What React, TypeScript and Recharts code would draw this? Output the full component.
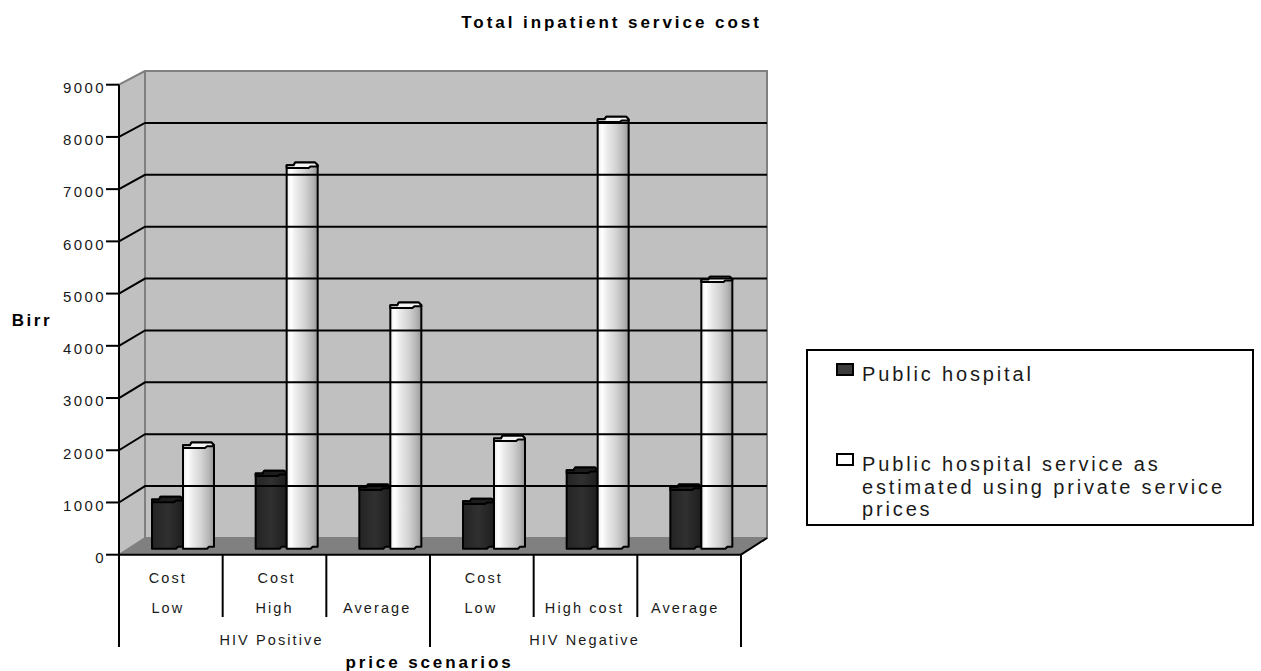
import { BarChart, Bar, XAxis, YAxis, Legend, ReferenceArea, ReferenceLine } from "recharts";

const levels = ["Low", "High", "Average", "Low", "High cost", "Average"];
const upperLevels = ["Cost", "Cost", "", "Cost", "", ""];
const groups = ["HIV Positive", "", "", "HIV Negative", "", ""];
const publicHospital = [890, 1390, 1125, 855, 1450, 1125];
const privatePrices = [1930, 7290, 4610, 2060, 8170, 5105];
const yTicks = [0, 1000, 2000, 3000, 4000, 5000, 6000, 7000, 8000, 9000];
const seriesNames = ["Public hospital", "Public hospital service as estimated using private service prices"];

const rows = levels.map((level, i) => ({
  key: i,
  level,
  publicHospital: publicHospital[i],
  privatePrices: privatePrices[i],
}));

const FONT = "'Liberation Sans', Arial, sans-serif";
const LEFT = 119;
const RIGHT = 741;
const TOP = 84.7;
const BOTTOM = 554.7;
const BAND = (RIGHT - LEFT) / levels.length;
// how far the back wall sits from the front plane
const DEPTH_X = 26;
// bars stand about halfway into the floor
const BAR_DX = 12;
const BAR_DY = -6;

// small horizontal nudges, the labels in the picture are not quite centred
const upperNudge = [-2, 3, 0, 3, 0, 0];
const levelNudge = [-3, 0, -1, -1, -1, -4];
const groupNudge = [-3, 0, 0, -1, 0, 0];

const backY = (y: number) => 538 - (BOTTOM - y) * (467 / 470);

function Walls(props: any) {
  const { x, y, width, height } = props;
  const b = y + height;
  const r = x + width;
  return (
    <g>
      <polygon points={`${x},${b} ${x},${y} ${x + DEPTH_X},${backY(y)} ${x + DEPTH_X},${backY(b)}`} fill="#c0c0c0" />
      <rect x={x + DEPTH_X} y={backY(y)} width={width} height={backY(b) - backY(y)} fill="#c0c0c0" stroke="#808080" strokeWidth={2} />
      <line x1={x} y1={y} x2={x + DEPTH_X} y2={backY(y)} stroke="#808080" strokeWidth={2} />
      <polygon points={`${x},${b} ${r},${b} ${r + DEPTH_X},${backY(b)} ${x + DEPTH_X},${backY(b)}`} fill="#808080" />
      <line x1={x} y1={b} x2={x + DEPTH_X} y2={backY(b)} stroke="#808080" strokeWidth={1.5} />
      <line x1={r} y1={b} x2={r + DEPTH_X} y2={backY(b)} stroke="#000" strokeWidth={2} />
    </g>
  );
}

function WallLine(props: any) {
  const { x1, y1, x2 } = props;
  const by = backY(y1);
  return (
    <polyline
      points={`${x1},${y1} ${x1 + DEPTH_X},${by} ${x2 + DEPTH_X},${by}`}
      fill="none"
      stroke="#000"
      strokeWidth={2}
    />
  );
}

function CylinderBar(props: any) {
  const { x, y, width, height, gradient, capFill } = props;
  const x0 = x + BAR_DX;
  const t = y + BAR_DY - 5.4;
  const b = y + height + BAR_DY;
  const w = width;
  const outline = `M${x0},${t + 2.7} L${x0 + 7},${t + 2.7} L${x0 + 8.5},${t} L${x0 + w - 2.5},${t} L${x0 + w},${t + 2.7} L${x0 + w},${b - 2} L${x0 + w - 5},${b - 2} L${x0 + w - 7},${b} L${x0},${b} Z`;
  const cap = `M${x0},${t + 2.7} L${x0 + 7},${t + 2.7} L${x0 + 8.5},${t} L${x0 + w - 2.5},${t} L${x0 + w},${t + 2.7} L${x0 + w},${t + 3.8} L${x0 + w - 7},${t + 3.8} L${x0 + w - 9},${t + 5.4} L${x0},${t + 5.4} Z`;
  return (
    <g>
      <path d={outline} fill={`url(#${gradient})`} stroke="#000" strokeWidth={2} strokeLinejoin="round" />
      <path d={cap} fill={capFill} stroke="#000" strokeWidth={2} strokeLinejoin="round" />
    </g>
  );
}

function CategoryTick(props: any) {
  const { x, payload } = props;
  const i = payload.index ?? payload.value;
  const left = x - BAND / 2;
  const right = x + BAND / 2;
  const isGroupStart = groups[i] !== "";
  const textStyle = { fontFamily: FONT, fontSize: 14.5, letterSpacing: 2.1, fill: "#1a1a1a" };
  return (
    <g>
      <line x1={left} y1={BOTTOM} x2={left} y2={isGroupStart ? 647 : 617} stroke="#000" strokeWidth={2} />
      {i === levels.length - 1 && <line x1={right} y1={BOTTOM} x2={right} y2={647} stroke="#000" strokeWidth={2} />}
      {upperLevels[i] && (
        <text x={x - 1 + upperNudge[i]} y={583} textAnchor="middle" {...textStyle}>
          {upperLevels[i]}
        </text>
      )}
      <text x={x + levelNudge[i]} y={613} textAnchor="middle" {...textStyle}>
        {levels[i]}
      </text>
      {isGroupStart && (
        <text x={right + BAND / 2 + groupNudge[i]} y={645} textAnchor="middle" {...textStyle}>
          {groups[i]}
        </text>
      )}
    </g>
  );
}

function LegendBox(props: any) {
  const items = props.payload ?? [];
  return (
    <div
      style={{
        position: "relative",
        width: 448,
        height: 177,
        border: "2px solid #000",
        boxSizing: "border-box",
        background: "#fff",
        fontFamily: FONT,
        fontSize: 20,
        letterSpacing: 2.85,
        lineHeight: "22.5px",
        color: "#1a1a1a",
      }}
    >
      {items.map((item: any, i: number) => (
        <div key={item.value} style={{ position: "absolute", left: 28, top: i === 0 ? 12 : 102, width: 400 }}>
          <span
            style={{
              position: "absolute",
              left: 0,
              top: 0,
              width: 18,
              height: 13,
              boxSizing: "border-box",
              border: "2px solid #000",
              background: i === 0 ? "#3c3c3c" : "#fff",
            }}
          />
          <div style={{ marginLeft: 26 }}>{item.value}</div>
        </div>
      ))}
    </div>
  );
}

export default function App() {
  return (
    <div style={{ position: "absolute", left: 0, top: 0, width: 1261, height: 671, overflow: "hidden", background: "#fff" }}>
      <BarChart
        width={1261}
        height={671}
        data={rows}
        margin={{ top: TOP, right: 1261 - RIGHT, bottom: 16.3, left: 0 }}
        barSize={31}
        barGap={0}
      >
        <defs>
          <linearGradient id="barLight" x1="0" y1="0" x2="1" y2="0">
            <stop offset="0%" stopColor="#ececec" />
            <stop offset="14%" stopColor="#ffffff" />
            <stop offset="30%" stopColor="#ececec" />
            <stop offset="60%" stopColor="#d2d2d2" />
            <stop offset="85%" stopColor="#b4b4b4" />
            <stop offset="100%" stopColor="#969696" />
          </linearGradient>
          <linearGradient id="barDark" x1="0" y1="0" x2="1" y2="0">
            <stop offset="0%" stopColor="#242424" />
            <stop offset="50%" stopColor="#303030" />
            <stop offset="100%" stopColor="#1e1e1e" />
          </linearGradient>
        </defs>
        <ReferenceArea y1={0} y2={9000} x1={0} x2={5} shape={<Walls />} ifOverflow="visible" />
        {yTicks.slice(1, -1).map((t) => (
          <ReferenceLine key={t} y={t} shape={<WallLine />} ifOverflow="visible" />
        ))}
        <XAxis
          dataKey="key"
          height={100}
          interval={0}
          tick={<CategoryTick />}
          tickLine={false}
          axisLine={{ stroke: "#000", strokeWidth: 2 }}
        />
        <YAxis
          width={LEFT}
          domain={[0, 9000]}
          ticks={yTicks}
          interval={0}
          tickSize={13}
          tickMargin={1}
          tick={{ fontFamily: FONT, fontSize: 15, letterSpacing: 2.4, fill: "#1a1a1a", dy: 3, dx: 1 }}
          tickLine={{ stroke: "#000", strokeWidth: 2 }}
          axisLine={{ stroke: "#000", strokeWidth: 2 }}
        />
        <Bar
          dataKey="publicHospital"
          name={seriesNames[0]}
          isAnimationActive={false}
          fill="#333"
          shape={<CylinderBar gradient="barDark" capFill="#1c1c1c" />}
        />
        <Bar
          dataKey="privatePrices"
          name={seriesNames[1]}
          isAnimationActive={false}
          fill="#fff"
          shape={<CylinderBar gradient="barLight" capFill="#f4f4f4" />}
        />
        <Legend
          layout="vertical"
          align="center"
          verticalAlign="middle"
          content={<LegendBox />}
          wrapperStyle={{ position: "absolute", left: 806, top: 349, width: 448, height: 177 }}
        />
        <text x={611.5} y={27.5} textAnchor="middle" fontFamily={FONT} fontSize={17} fontWeight="bold" letterSpacing={2.95} fill="#000">
          Total inpatient service cost
        </text>
        <text x={32} y={326} textAnchor="middle" fontFamily={FONT} fontSize={17} fontWeight="bold" letterSpacing={2.6} fill="#000">
          Birr
        </text>
        <text x={429.5} y={667.5} textAnchor="middle" fontFamily={FONT} fontSize={17} fontWeight="bold" letterSpacing={2.9} fill="#000">
          price scenarios
        </text>
      </BarChart>
    </div>
  );
}
